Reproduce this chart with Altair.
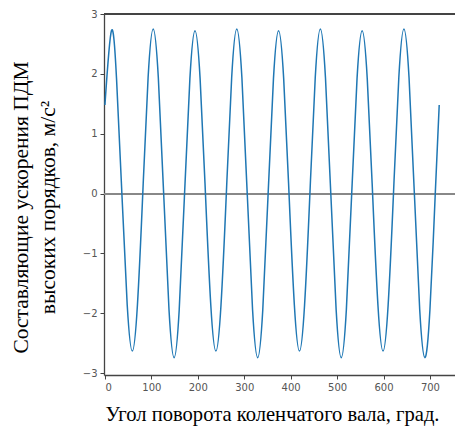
import altair as alt
import pandas as pd

# Angle of crankshaft rotation, degrees
angle = [
    0, 14, 25, 36.5, 48, 59, 70, 81.5, 93,
    104, 115, 126.5, 138, 149, 160, 171.5, 183,
    194, 205, 216.5, 228, 239, 250, 261.5, 273,
    284, 295, 306.5, 318, 329, 340, 351.5, 363,
    374, 385, 396.5, 408, 419, 430, 441.5, 453,
    464, 475, 486.5, 498, 509, 520, 531.5, 543,
    554, 565, 576.5, 588, 599, 610, 621.5, 633,
    644, 655, 666.5, 678, 689, 700, 711.5, 720,
]
# Acceleration component, m/s^2
accel = [
    1.48, 2.72, 1.92, 0.0, -1.86, -2.63, -1.86, 0.0, 1.94,
    2.75, 1.94, 0.0, -1.94, -2.74, -1.94, 0.0, 1.92,
    2.72, 1.92, 0.0, -1.86, -2.63, -1.86, 0.0, 1.94,
    2.75, 1.94, 0.0, -1.94, -2.74, -1.94, 0.0, 1.92,
    2.72, 1.92, 0.0, -1.86, -2.63, -1.86, 0.0, 1.94,
    2.75, 1.94, 0.0, -1.94, -2.74, -1.94, 0.0, 1.92,
    2.72, 1.92, 0.0, -1.86, -2.63, -1.86, 0.0, 1.94,
    2.75, 1.94, 0.0, -1.94, -2.74, -1.94, 0.0, 1.48,
]
x_ticks = [0, 100, 200, 300, 400, 500, 600, 700]
y_ticks = [-3, -2, -1, 0, 1, 2, 3]

x_title = "Угол поворота коленчатого вала, град."
y_title = ["Составляющие ускорения ПДМ", "высоких порядков, м/с²"]

W, H = 351, 361

df = pd.DataFrame({"angle": angle, "accel": accel})

xs = alt.Scale(domain=[-2, 754], nice=False, zero=False)
ys = alt.Scale(domain=[-3.03, 3.0], nice=False, zero=False)

base = alt.Chart(df)

line = base.mark_line(
    color="#1f77b4", strokeWidth=1.5, interpolate="natural"
).encode(
    x=alt.X(
        "angle:Q", scale=xs,
        axis=alt.Axis(
            values=x_ticks, format="d", title=x_title, titleFont="Liberation Serif",
            titleFontSize=20.6, titleFontWeight="normal", titleColor="#000",
            titleX=168, titleY=45, titleBaseline="alphabetic", titleAlign="center",
        ),
    ),
    y=alt.Y(
        "accel:Q", scale=ys,
        axis=alt.Axis(
            values=y_ticks, format="d", title=y_title, titleFont="Liberation Serif",
            titleFontSize=21.5, titleFontWeight="normal", titleColor="#000",
            titleX=-83, titleY=193, titleBaseline="middle", titleAlign="center",
            titleAngle=270, titleLineHeight=27,
        ),
    ),
)

zero_line = base.mark_rule(color="#888888", strokeWidth=1.2).encode(
    y=alt.datum(0), x=alt.value(0), x2=alt.value(W)
)

top_spine = base.mark_rule(color="#444444", strokeWidth=1.5).encode(
    y=alt.value(0), x=alt.value(0), x2=alt.value(W)
)

chart = alt.layer(zero_line, top_spine, line).properties(
    width=W, height=H,
    autosize=alt.AutoSizeParams(type="none"),
    padding={"left": 104, "top": 14, "right": 0, "bottom": 55},
    background="white",
).configure_view(stroke=None).configure_axis(
    grid=False, domainColor="#444444", domainWidth=1.3,
    tickColor="#444444", tickSize=4, tickWidth=1,
    labelFont="DejaVu Sans", labelFontSize=10, labelColor="#555555",
    labelPadding=3,
)

chart.save("out.html", embed_options={"renderer": "svg", "actions": False})
